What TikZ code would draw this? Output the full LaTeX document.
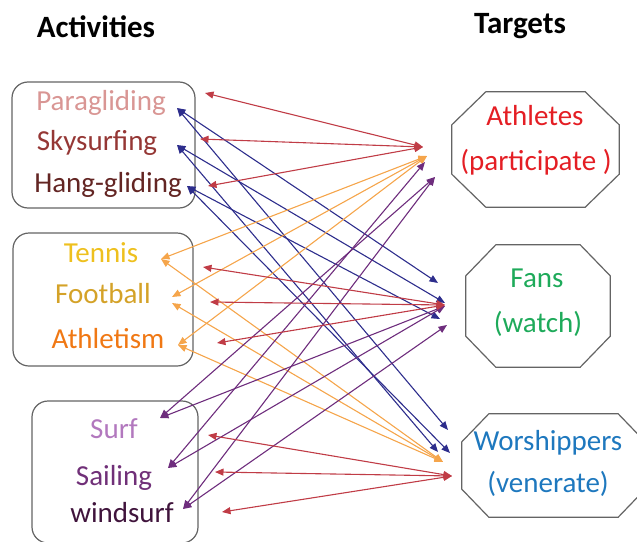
\documentclass[tikz,border=0pt]{standalone}
\usepackage{fontspec}
\setmainfont{Carlito}
\usetikzlibrary{positioning}
\usetikzlibrary{arrows.meta}
\definecolor{boxgray}{RGB}{100,100,100}
\definecolor{paracol}{RGB}{217,150,148}
\definecolor{skycol}{RGB}{149,55,53}
\definecolor{hangcol}{RGB}{99,37,35}
\definecolor{tenniscol}{RGB}{238,192,30}
\definecolor{footcol}{RGB}{212,162,40}
\definecolor{athlcol}{RGB}{240,120,20}
\definecolor{surfcol}{RGB}{178,120,190}
\definecolor{sailcol}{RGB}{112,48,120}
\definecolor{windcol}{RGB}{64,20,60}
\definecolor{athcol}{RGB}{228,30,36}
\definecolor{fanscol}{RGB}{30,170,90}
\definecolor{worcol}{RGB}{30,120,190}
\definecolor{linkred}{RGB}{192,60,70}
\definecolor{linkblue}{RGB}{45,45,140}
\definecolor{linkorange}{RGB}{245,165,75}
\definecolor{linkpurple}{RGB}{110,45,125}
\newcommand{\sizeitem}{\fontsize{29}{35}\selectfont}
\newcommand{\sizetitle}{\fontsize{31}{37}\selectfont}
% octagon round a rectangle node: #1 node, #2 chamfer along x, #3 chamfer along y
\newcommand{\octagon}[3]{%
  \draw[common] ([xshift=#2]#1.north west) -- ([xshift=-#2]#1.north east)
    -- ([yshift=-#3]#1.north east) -- ([yshift=#3]#1.south east)
    -- ([xshift=-#2]#1.south east) -- ([xshift=#2]#1.south west)
    -- ([yshift=#3]#1.south west) -- ([yshift=-#3]#1.north west) -- cycle;}
\tikzset{
    common/.style={draw=boxgray, line width=1.2pt},
    group/.style={common, rectangle, rounded corners=16pt},
    target/.style={rectangle, inner sep=0pt},
    item/.style={anchor=base, font=\sizeitem},
    title/.style={anchor=base, font=\sizetitle\bfseries},
    link/.style={<->, line width=1.1pt},
    >={Triangle[length=8.5pt, width=7pt]},
}
\begin{document}
\begin{tikzpicture}[x=1pt, y=-1pt]
  \useasboundingbox (0,0) rectangle (637,541);
  \clip (0,0) rectangle (637,541);

  % headings
  \node[title] (activities) at (96,37) {Activities};
  \node[title] (targets) at (520,33) {Targets};

  % activity groups
  \node[group, minimum width=183pt, minimum height=126pt] (air) at (103.5,145) {};
  \node[group, minimum width=180pt, minimum height=133pt] (ground) at (103,299.5) {};
  \node[group, minimum width=166pt, minimum height=142pt] (water) at (115,472) {};

  \node[item, paracol] (para) at (101,110) {Paragliding};
  \node[item, skycol] (sky) at (97,150) {Skysurfing};
  \node[item, hangcol] (hang) at (108,192) {Hang-gliding};
  \node[item, tenniscol] (tennis) at (101,262) {Tennis};
  \node[item, footcol] (football) at (103,303) {Football};
  \node[item, athlcol] (athl) at (108,348) {Athletism};
  \node[item, surfcol] (surf) at (114,438) {Surf};
  \node[item, sailcol] (sail) at (114,485) {Sailing};
  \node[item, windcol] (wind) at (122,522) {windsurf};

  % targets
  \node[target, minimum width=167pt, minimum height=115pt] (ath) at (535.5,149.5) {};
  \node[target, minimum width=144pt, minimum height=122pt] (fans) at (538,306) {};
  \node[target, minimum width=183pt, minimum height=103pt] (wor) at (553.5,465.5) {};
  \octagon{ath}{34pt}{33pt}
  \octagon{fans}{30pt}{31pt}
  \octagon{wor}{27pt}{28pt}

  \node[item, athcol] (ath-top) at (535,125) {Athletes};
  \node[item, athcol] (ath-bot) at (536,170) {(participate )};
  \node[item, fanscol] (fans-top) at (537,287) {Fans};
  \node[item, fanscol] (fans-bot) at (538,332) {(watch)};
  \node[item, worcol] (wor-top) at (548,450) {Worshippers};
  \node[item, worcol] (wor-bot) at (548,492) {(venerate)};

  % link ends, activity side
  \coordinate (para-r) at (205,93);
  \coordinate (sky-r) at (200,139);
  \coordinate (hang-r) at (208,186);
  \coordinate (para-b) at (177,108);
  \coordinate (sky-b) at (177,145);
  \coordinate (hang-b) at (187,186);
  \coordinate (tennis-o) at (161,259);
  \coordinate (football-o1) at (172,297);
  \coordinate (football-o2) at (172,303);
  \coordinate (athl-o) at (178,345);
  \coordinate (tennis-r) at (203,267);
  \coordinate (football-r) at (210,302);
  \coordinate (athl-r) at (217,343);
  \coordinate (surf-p) at (160,418);
  \coordinate (sail-p) at (168,468);
  \coordinate (wind-p) at (183,509);
  \coordinate (surf-r) at (208,435);
  \coordinate (sail-r) at (215,472);
  \coordinate (wind-r) at (222,512);

  % link ends, target side
  \coordinate (ath-r) at (423,147);
  \coordinate (ath-o) at (427,156);
  \coordinate (ath-p1) at (425,162);
  \coordinate (ath-p2) at (435,177);
  \coordinate (fans-b1) at (438,283);
  \coordinate (fans-b2) at (445,303);
  \coordinate (fans-b3) at (440,319);
  \coordinate (fans-r) at (445,305);
  \coordinate (fans-p1) at (445,306);
  \coordinate (fans-p2) at (447,325);
  \coordinate (wor-b1) at (448,430);
  \coordinate (wor-b2) at (438,452);
  \coordinate (wor-b3) at (450,453);
  \coordinate (wor-o) at (443,462);
  \coordinate (wor-r) at (452,476);

  % air sports
  \draw[link, linkblue] (para-b) -- (fans-b1);
  \draw[link, linkblue] (sky-b) -- (fans-b2);
  \draw[link, linkblue] (hang-b) -- (fans-b3);
  \draw[link, linkblue] (para-b) -- (wor-b1);
  \draw[link, linkblue] (sky-b) -- (wor-b2);
  \draw[link, linkblue] (hang-b) -- (wor-b3);

  % ground sports
  \draw[link, linkorange] (tennis-o) -- (ath-o);
  \draw[link, linkorange] (football-o1) -- (ath-o);
  \draw[link, linkorange] (athl-o) -- (ath-o);
  \draw[link, linkorange] (tennis-o) -- (wor-o);
  \draw[link, linkorange] (football-o2) -- (wor-o);
  \draw[link, linkorange] (athl-o) -- (wor-o);

  % water sports
  \draw[link, linkpurple] (surf-p) -- (ath-p2);
  \draw[link, linkpurple] (sail-p) -- (ath-p1);
  \draw[link, linkpurple] (wind-p) -- (ath-p2);
  \draw[link, linkpurple] (surf-p) -- (fans-p1);
  \draw[link, linkpurple] (sail-p) -- (fans-p1);
  \draw[link, linkpurple] (wind-p) -- (fans-p2);

  % one red link per group and target
  \draw[link, linkred] (para-r) -- (ath-r);
  \draw[link, linkred] (sky-r) -- (ath-r);
  \draw[link, linkred] (hang-r) -- (ath-r);
  \draw[link, linkred] (tennis-r) -- (fans-r);
  \draw[link, linkred] (football-r) -- (fans-r);
  \draw[link, linkred] (athl-r) -- (fans-r);
  \draw[link, linkred] (surf-r) -- (wor-r);
  \draw[link, linkred] (sail-r) -- (wor-r);
  \draw[link, linkred] (wind-r) -- (wor-r);
\end{tikzpicture}
\end{document}
